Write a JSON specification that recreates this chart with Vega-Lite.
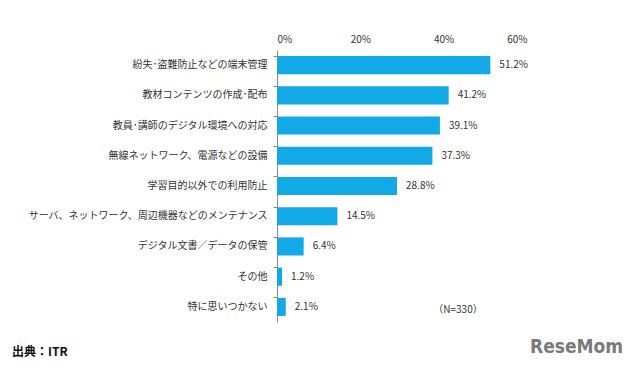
{
  "$schema": "https://vega.github.io/schema/vega-lite/v6.json",
  "width": 250,
  "height": 272,
  "autosize": "none",
  "padding": {"left": 277, "top": 50, "right": 113, "bottom": 48},
  "background": "#ffffff",
  "config": {
    "view": {"stroke": null},
    "font": "Noto Sans CJK JP",
    "text": {"font": "Noto Sans CJK JP"}
  },
  "title": {
    "text": "出典：ITR",
    "orient": "bottom",
    "anchor": "start",
    "frame": "group",
    "dx": -265,
    "offset": -10,
    "fontSize": 12,
    "fontWeight": "bold",
    "color": "#111111",
    "font": "Noto Sans CJK JP"
  },
  "data": {
    "values": [
      {"item": "紛失･盗難防止などの端末管理", "value": 51.2, "label": "51.2%"},
      {"item": "教材コンテンツの作成･配布", "value": 41.2, "label": "41.2%"},
      {"item": "教員･講師のデジタル環境への対応", "value": 39.1, "label": "39.1%"},
      {"item": "無線ネットワーク、電源などの設備", "value": 37.3, "label": "37.3%"},
      {"item": "学習目的以外での利用防止", "value": 28.8, "label": "28.8%"},
      {"item": "サーバ、ネットワーク、周辺機器などのメンテナンス", "value": 14.5, "label": "14.5%"},
      {"item": "デジタル文書／データの保管", "value": 6.4, "label": "6.4%"},
      {"item": "その他", "value": 1.2, "label": "1.2%"},
      {"item": "特に思いつかない", "value": 2.1, "label": "2.1%"}
    ]
  },
  "encoding": {
    "y": {
      "field": "item",
      "type": "nominal",
      "sort": null,
      "scale": {"paddingInner": 0.4, "paddingOuter": 0.2},
      "axis": {
        "title": null,
        "labelFontSize": 10,
        "labelColor": "#333333",
        "labelPadding": 6,
        "labelLimit": 300,
        "domainColor": "#888888",
        "tickColor": "#888888",
        "tickSize": 4,
        "bandPosition": 0,
        "labelFont": "Noto Sans CJK JP"
      }
    },
    "x": {
      "field": "value",
      "type": "quantitative",
      "scale": {"domain": [0, 60], "nice": false},
      "axis": {
        "orient": "top",
        "title": null,
        "values": [0, 20, 40, 60],
        "labelExpr": "datum.value + '%'",
        "grid": false,
        "domain": false,
        "ticks": false,
        "labelFontSize": 10,
        "labelColor": "#333333",
        "labelPadding": 6,
        "labelFont": "Noto Sans CJK JP"
      }
    }
  },
  "layer": [
    {"mark": {"type": "bar", "color": "#12A9E6"}},
    {
      "mark": {"type": "text", "align": "left", "dx": 9, "fontSize": 10, "color": "#333333"},
      "encoding": {"text": {"field": "label"}}
    },
    {
      "data": {"values": [{"note": "（N=330）", "x": 37.5, "item": "特に思いつかない"}]},
      "mark": {"type": "text", "align": "left", "fontSize": 10, "color": "#333333", "dy": 3},
      "encoding": {
        "x": {"field": "x", "type": "quantitative"},
        "y": {"field": "item", "type": "nominal"},
        "text": {"field": "note"}
      }
    },
    {
      "data": {"values": [{"logo": "ReseMom", "x": 60, "item": "特に思いつかない"}]},
      "mark": {"type": "text", "align": "left", "baseline": "middle", "fontSize": 19, "fontWeight": "bold", "color": "#7a7a7a", "font": "DejaVu Sans Condensed", "dx": 3, "dy": 40},
      "encoding": {
        "x": {"field": "x", "type": "quantitative"},
        "y": {"field": "item", "type": "nominal"},
        "text": {"field": "logo"}
      }
    }
  ]
}
